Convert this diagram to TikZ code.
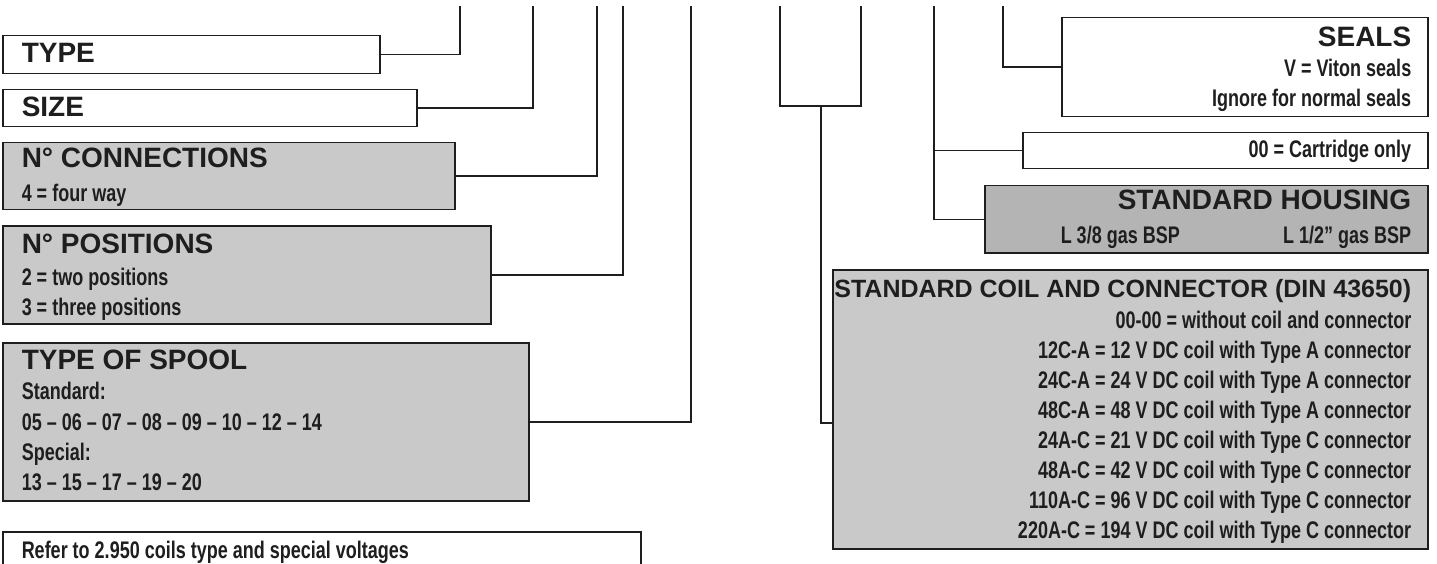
\documentclass[tikz,border=0pt]{standalone}
\usepackage{fontspec}
\setmainfont{Liberation Sans}
\newfontfamily\headfont{Liberation Sans}
\newfontfamily\bodyfont{Liberation Sans}[FakeStretch=0.75]
\definecolor{inkgray}{HTML}{1E1E1E}
\definecolor{boxgray}{HTML}{C9C9C9}
\definecolor{hsggray}{HTML}{B4B4B4}

\begin{document}
\begin{tikzpicture}[x=1pt, y=-1pt, line width=1.5pt, draw=inkgray,
  whitebox/.style={draw=inkgray, fill=white, anchor=north west, inner sep=0pt},
  graybox/.style={whitebox, fill=boxgray},
  head/.style={inner sep=0pt, text=inkgray, font=\headfont\bfseries\fontsize{28}{30}\selectfont},
  body/.style={inner sep=0pt, text=inkgray, font=\bodyfont\bfseries\fontsize{24}{30}\selectfont}]
  \clip (0,0) rectangle (1437,564);
  % ---- left boxes ----
  \node[whitebox, minimum width=377pt, minimum height=38pt] (type) at (2,35) {};
  \node[whitebox, minimum width=414pt, minimum height=37pt] (size) at (2,89) {};
  \node[graybox, minimum width=452pt, minimum height=67pt] (conn) at (2,142) {};
  \node[graybox, minimum width=488pt, minimum height=98pt] (pos) at (2,225) {};
  \node[graybox, minimum width=526pt, minimum height=158pt] (spool) at (2,342) {};
  \node[whitebox, minimum width=638pt, minimum height=60pt] (refer) at (2,531) {};
  % ---- left texts ----
  \node[head, anchor=base west] (typetxt) at (21,63) {TYPE};
  \node[head, anchor=base west] (sizetxt) at (21,117) {SIZE};
  \node[head, anchor=base west] (conntxt) at (21,168) {N° CONNECTIONS};
  \node[body, anchor=base west] (connval) at (21,201) {4 = four way};
  \node[head, anchor=base west] (postxt) at (21,253) {N° POSITIONS};
  \node[body, anchor=base west] (posval2) at (21,285) {2 = two positions};
  \node[body, anchor=base west] (posval3) at (21,315) {3 = three positions};
  \node[head, anchor=base west] (spooltxt) at (21,369) {TYPE OF SPOOL};
  \node[body, anchor=base west] (spoolstd) at (21,399) {Standard:};
  \node[body, anchor=base west] (spoolstdval) at (21,430) {05 – 06 – 07 – 08 – 09 – 10 – 12 – 14};
  \node[body, anchor=base west] (spoolspc) at (21,460) {Special:};
  \node[body, anchor=base west] (spoolspcval) at (21,490) {13 – 15 – 17 – 19 – 20};
  \node[body, anchor=base west] (refertxt) at (21,558) {Refer to 2.950 coils type and special voltages};
  % ---- left connectors ----
  \coordinate (typetop) at (460,6);
  \coordinate (sizetop) at (533,6);
  \coordinate (conntop) at (597,6);
  \coordinate (postop) at (623,6);
  \coordinate (spooltop) at (691,6);
  \draw (type.east) -| (typetop);
  \draw (size.east) -| (sizetop);
  \draw (conn.east) -| (conntop);
  \draw (pos.east) -| (postop);
  \draw (spool.east) -| (spooltop);
  % ---- right boxes ----
  \node[whitebox, minimum width=366pt, minimum height=99pt] (seals) at (1061,17) {};
  \node[whitebox, minimum width=405pt, minimum height=36pt] (cart) at (1022,132) {};
  \node[graybox, fill=hsggray, minimum width=443pt, minimum height=67pt] (hsg) at (984,185) {};
  \node[graybox, minimum width=595pt, minimum height=279pt] (coil) at (832,269) {};
  % ---- right texts ----
  \node[head, anchor=base east] (sealstxt) at (1412,47) {SEALS};
  \node[body, anchor=base east] (sealsv) at (1412,77) {V = Viton seals};
  \node[body, anchor=base east] (sealsn) at (1412,107) {Ignore for normal seals};
  \node[body, anchor=base east] (carttxt) at (1412,158) {00 = Cartridge only};
  \node[head, anchor=base east] (hsgtxt) at (1412,210) {STANDARD HOUSING};
  \node[body, anchor=base west] (hsgsmall) at (1060,243) {L 3/8 gas BSP};
  \node[body, anchor=base east] (hsgbig) at (1412,243) {L 1/2” gas BSP};
  \node[head, anchor=base east, font=\headfont\bfseries\fontsize{25}{30}\selectfont] (coiltxt) at (1412,297) {STANDARD COIL AND CONNECTOR (DIN 43650)};
  \foreach \txt [count=\i] in {00-00 = without coil and connector,
      12C-A = 12 V DC coil with Type A connector,
      24C-A = 24 V DC coil with Type A connector,
      48C-A = 48 V DC coil with Type A connector,
      24A-C = 21 V DC coil with Type C connector,
      48A-C = 42 V DC coil with Type C connector,
      110A-C = 96 V DC coil with Type C connector,
      220A-C = 194 V DC coil with Type C connector}
    \node[body, anchor=base east] (coil\i) at (1412,298+30*\i) {\txt};
  % ---- right connectors ----
  \coordinate (brkl) at (780,6);
  \coordinate (brkr) at (861,6);
  \coordinate (brk) at (821,106);
  \coordinate (hsgtop) at (934,6);
  \coordinate (sealtop) at (1003,6);
  \draw (brkl) -- (brkl |- brk) -- (brkr |- brk) -- (brkr);
  \draw (brk) |- ([yshift=-13.5pt]coil.west);
  \draw (hsgtop) |- (hsg.west);
  \draw (cart.west) -- (cart.west -| hsgtop);
  \draw (sealtop) |- (seals.west);
\end{tikzpicture}
\end{document}
